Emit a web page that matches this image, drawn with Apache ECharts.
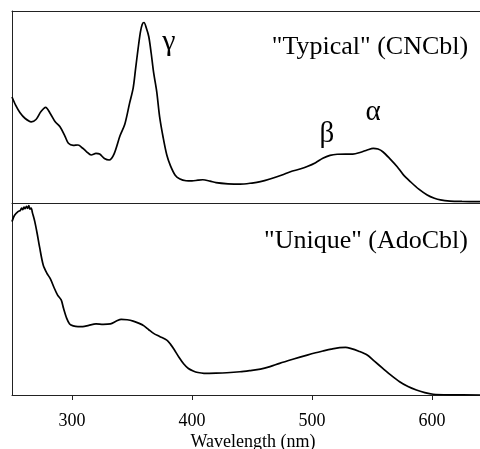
<!DOCTYPE html>
<html>
<head>
<meta charset="utf-8">
<script src="https://cdn.jsdelivr.net/npm/echarts@6/dist/echarts.min.js"></script>
<style>html,body{margin:0;padding:0;background:#fff}#c{width:480px;height:449px}</style>
</head>
<body>
<div id="c"></div>
<script>
// Top panel: "Typical" (CNCbl) absorbance (relative units, 0-100 of panel height)
const cncblWavelength = [250,253,256.7,261,266,270,274,278,282,286,290,294,297,301,305,309,312,316,320,323,327,331,335,340,344,348,351,353,355,357,358.5,360,362,364,366,368,370.6,373,376,379,382,386,390,395,400,405,409,415,420,430,440,450,457,465,475,482,490,496,503,509,515,521,528,534,540,546,551,555,559,565,571,576,582,589,596,602,607,615,625,640];
const cncblAbs = [55.2,51,47,44,42.3,43.5,47.5,49.8,46.5,42.3,39.7,35,31.1,30,30.2,28.5,26.8,25,25.8,25.5,23.2,22.4,25.5,35,41,52,60,70,80,89,93,94,91,86.6,78,68,58,45,34,25,19.5,14.5,12.5,11.6,11.5,11.9,12.1,11.4,10.6,10,9.8,10.4,11.1,12.5,14.6,16.3,17.7,19,21,23.3,24.8,25.4,25.5,25.5,26.3,27.6,28.5,28.1,26.7,23,18.9,14.8,11.1,7.2,4.2,2.5,1.6,1,0.8,0.7];

// Bottom panel: "Unique" (AdoCbl)
const adocblWavelength = [250,252,255,257,258,259,260,261,262,263,264,265,266,267,269,271,273,276,279,282,285,288,291,293,295.6,298,301,305,309,314,320,326,332,337,341,346,351,356,360,364,368,373,379,382,385,389,393,397,401,405,410,420,429,440,448,457,465,473,484,496,503,509,516,523,528,532,539,546,552,559,566,573,580,587,594,601,615,640];
const adocblAbs = [90.3,93.5,95.5,96.2,97.4,96.6,97.8,97,98.2,97.2,98.6,96.8,97.4,95,90.3,84,77,67.7,63.5,60.5,56,52,49.5,45,39.9,37,36,35.6,35.6,36.3,37,36.8,37,38.5,39.4,39.2,38.5,37.3,36,34,32.1,30.5,28.6,26.5,23.8,19.8,16.3,13.8,12.5,11.7,11.3,11.4,11.6,12.1,12.7,13.5,14.8,16.5,18.6,20.8,22,22.9,23.9,24.7,24.8,24.3,22.8,20.8,17.6,13.9,10.2,6.9,4.4,2.6,1.2,0.4,0.1,0];

const xTicks = [300,400,500,600];
const xMin = 250, xMax = 640;
const xTitle = 'Wavelength (nm)';
const topLabel = '"Typical" (CNCbl)';
const bottomLabel = '"Unique" (AdoCbl)';
const bandLabels = ['γ','β','α'];

const toPairs = (xs, ys) => xs.map((x, i) => [x, ys[i]]);
const serif = 'Liberation Serif';
const axisLineStyle = {color: '#222', width: 1};

const chart = echarts.init(document.getElementById('c'), null, {renderer: 'canvas'});
chart.setOption({
  animation: false,
  backgroundColor: '#fff',
  grid: [
    {left: 12, right: 0, top: 11, height: 192, containLabel: false, outerBoundsMode: 'none'},
    {left: 12, right: 0, top: 203, height: 192, containLabel: false, outerBoundsMode: 'none'}
  ],
  xAxis: [
    {gridIndex: 0, type: 'value', min: xMin, max: xMax, position: 'bottom',
     axisLine: {show: true, lineStyle: axisLineStyle}, axisTick: {show: false}, axisLabel: {show: false}, splitLine: {show: false}},
    {gridIndex: 0, type: 'value', min: xMin, max: xMax, position: 'top',
     axisLine: {show: true, lineStyle: axisLineStyle}, axisTick: {show: false}, axisLabel: {show: false}, splitLine: {show: false}},
    {gridIndex: 1, type: 'value', min: xMin, max: xMax, position: 'bottom',
     axisLine: {show: true, lineStyle: axisLineStyle},
     axisTick: {show: true, inside: false, length: 5, customValues: xTicks, lineStyle: axisLineStyle},
     axisLabel: {show: true, customValues: xTicks, margin: 17, color: '#000', fontFamily: serif, fontSize: 18},
     splitLine: {show: false},
     name: xTitle, nameLocation: 'middle', nameGap: 38,
     nameTextStyle: {color: '#000', fontFamily: serif, fontSize: 18, padding: [0, 0, 0, 14]}}
  ],
  yAxis: [
    {gridIndex: 0, type: 'value', min: 0, max: 100, axisLine: {show: true, lineStyle: axisLineStyle}, axisTick: {show: false}, axisLabel: {show: false}, splitLine: {show: false}},
    {gridIndex: 1, type: 'value', min: 0, max: 100, axisLine: {show: true, lineStyle: axisLineStyle}, axisTick: {show: false}, axisLabel: {show: false}, splitLine: {show: false}}
  ],
  series: [
    {type: 'line', xAxisIndex: 0, yAxisIndex: 0, data: toPairs(cncblWavelength, cncblAbs), smooth: 0.3, showSymbol: false, lineStyle: {color: '#000', width: 1.7}},
    {type: 'line', xAxisIndex: 2, yAxisIndex: 1, data: toPairs(adocblWavelength, adocblAbs), smooth: 0.3, showSymbol: false, lineStyle: {color: '#000', width: 1.7}}
  ],
  graphic: [
    {type: 'text', x: 370, y: 47, style: {text: topLabel, font: '26px "Liberation Serif"', fill: '#000', align: 'center', verticalAlign: 'middle'}},
    {type: 'text', x: 366, y: 241, style: {text: bottomLabel, font: '26px "Liberation Serif"', fill: '#000', align: 'center', verticalAlign: 'middle'}},
    {type: 'text', x: 169, y: 42, style: {text: bandLabels[0], font: '30px "Liberation Serif"', fill: '#000', align: 'center', verticalAlign: 'middle'}},
    {type: 'text', x: 327, y: 134, style: {text: bandLabels[1], font: '29px "Liberation Serif"', fill: '#000', align: 'center', verticalAlign: 'middle'}},
    {type: 'text', x: 373, y: 112, style: {text: bandLabels[2], font: '29px "Liberation Serif"', fill: '#000', align: 'center', verticalAlign: 'middle'}}
  ]
});
</script>
</body>
</html>
